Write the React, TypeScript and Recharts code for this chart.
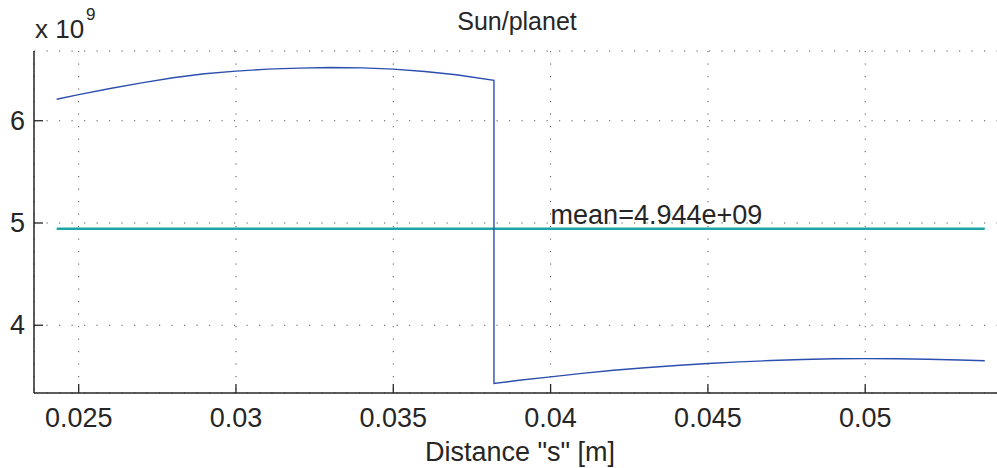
import React from 'react';
import { LineChart, Line, XAxis, YAxis, CartesianGrid, ReferenceDot } from 'recharts';

// values in units of 1e9
const upperX = [0.0243, 0.025, 0.026, 0.027, 0.028, 0.029, 0.03, 0.031, 0.032, 0.033, 0.034, 0.035, 0.036, 0.037, 0.0382];
const upperY = [6.21, 6.255, 6.315, 6.37, 6.42, 6.46, 6.485, 6.505, 6.515, 6.52, 6.517, 6.505, 6.482, 6.45, 6.395];
const lowerX = [0.0382, 0.039, 0.04, 0.041, 0.042, 0.043, 0.044, 0.045, 0.046, 0.047, 0.048, 0.049, 0.05, 0.051, 0.052, 0.053, 0.0538];
const lowerY = [3.43, 3.462, 3.495, 3.53, 3.56, 3.585, 3.607, 3.626, 3.642, 3.655, 3.665, 3.672, 3.674, 3.673, 3.668, 3.66, 3.653];
const meanValue = 4.944;
const meanX = [0.0243, 0.0538];
const meanLabelX = 0.04;
const xTicks = [0.025, 0.03, 0.035, 0.04, 0.045, 0.05];
const yTicks = [4, 5, 6];

const curve = [
  ...upperX.map((x, i) => ({ x, y: upperY[i] })),
  ...lowerX.map((x, i) => ({ x, y: lowerY[i] })),
];
const meanLine = meanX.map(x => ({ x, y: meanValue }));

const FONT = '"Liberation Sans", Arial, Helvetica, sans-serif';
const INK = '#262626';
const TICK_LEN = 9;

const BottomTick = (props: any) => {
  const { x, y, payload } = props;
  return (
    <g>
      <line x1={x} x2={x} y1={y} y2={y - TICK_LEN} stroke={INK} strokeWidth={1.3} />
      <text x={x} y={y + 34} textAnchor="middle" fontSize={27} fontFamily={FONT} fill={INK}>
        {String(payload.value)}
      </text>
    </g>
  );
};

const TopTick = (props: any) => {
  const { x, y } = props;
  return <line x1={x} x2={x} y1={y} y2={y + TICK_LEN} stroke={INK} strokeWidth={1.3} />;
};

const LeftTick = (props: any) => {
  const { x, y, payload } = props;
  return (
    <g>
      <line x1={x} x2={x + TICK_LEN} y1={y} y2={y} stroke={INK} strokeWidth={1.3} />
      <text x={x - 9} y={y + 9} textAnchor="end" fontSize={27} fontFamily={FONT} fill={INK}>
        {String(payload.value)}
      </text>
    </g>
  );
};

const MeanLabel = (props: any) => {
  const vb = props.viewBox || {};
  return (
    <text x={vb.x} y={vb.y - 5} fontSize={27} fontFamily={FONT} fill={INK}>
      {`mean=${meanValue.toFixed(3)}e+09`}
    </text>
  );
};

export default function App() {
  return (
    <div style={{ position: 'absolute', left: 0, top: 0, width: 997, height: 468, overflow: 'hidden', background: '#fff' }}>
      <LineChart
        width={1010}
        height={468}
        data={curve}
        margin={{ top: 51, right: 9.5, left: 0, bottom: 0 }}
      >
        <CartesianGrid
          stroke="#555"
          strokeWidth={1}
          strokeDasharray="1.2 11.3"
          vertical
          horizontal
        />
        <XAxis
          dataKey="x"
          type="number"
          domain={[0.02358, 0.0543]}
          ticks={xTicks}
          allowDataOverflow
          height={75}
          tickSize={0}
          tickMargin={0}
          tick={<BottomTick />}
          axisLine={{ stroke: INK, strokeWidth: 1.5 }}
          tickLine={false}
        />
        <XAxis
          xAxisId="t"
          orientation="top"
          dataKey="x"
          type="number"
          domain={[0.02358, 0.0543]}
          ticks={xTicks}
          allowDataOverflow
          height={0}
          tickSize={0}
          tickMargin={0}
          tick={<TopTick />}
          axisLine={{ stroke: INK, strokeWidth: 1.5 }}
          tickLine={false}
        />
        <YAxis
          type="number"
          domain={[3.3376, 6.682]}
          ticks={yTicks}
          allowDataOverflow
          width={34}
          tickSize={0}
          tickMargin={0}
          tick={<LeftTick />}
          axisLine={{ stroke: INK, strokeWidth: 1.5 }}
          tickLine={false}
        />
        <Line
          data={meanLine}
          dataKey="y"
          type="linear"
          stroke="#1fa3a6"
          strokeWidth={2.6}
          dot={false}
          activeDot={false}
          isAnimationActive={false}
        />
        <Line
          dataKey="y"
          type="linear"
          stroke="#2b4fae"
          strokeWidth={1.4}
          dot={false}
          activeDot={false}
          isAnimationActive={false}
        />
        <ReferenceDot x={meanLabelX} y={meanValue} r={0} fill="none" stroke="none" label={<MeanLabel />} />
      </LineChart>
      <svg width={997} height={468} style={{ position: 'absolute', left: 0, top: 0, pointerEvents: 'none' }}>
        <text x={517} y={30} textAnchor="middle" fontSize={25} fontFamily={FONT} fill={INK}>Sun/planet</text>
        <text x={35} y={38} fontSize={26} fontFamily={FONT} fill={INK}>x 10</text>
        <text x={86} y={20} fontSize={17} fontFamily={FONT} fill={INK}>9</text>
        <text x={520} y={461} textAnchor="middle" fontSize={27} fontFamily={FONT} fill={INK}>Distance "s" [m]</text>
      </svg>
    </div>
  );
}
